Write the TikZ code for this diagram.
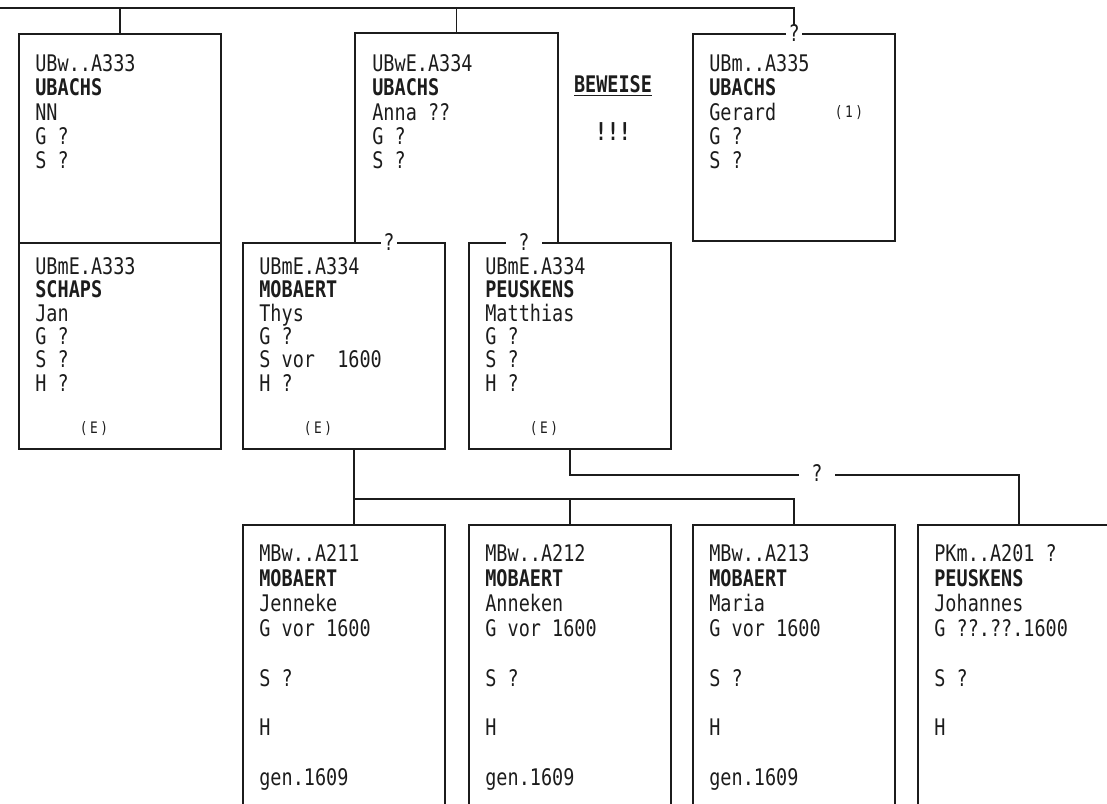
\documentclass[tikz,border=0pt]{standalone}
\usepackage{fontspec}
\usepackage{tikz}
\usetikzlibrary{calc}
\newfontfamily\dotfont[FakeStretch=0.81,WordSpace={1,0,0}]{DejaVu Sans Mono}
\definecolor{inkc}{HTML}{1C1C1C}

\tikzset{
  card/.style={minimum width=4.05cm, minimum height=#1, inner sep=0pt, anchor=north west},
  framed/.style={draw=inkc, line width=1pt},
  cardtext/.style={anchor=north west, align=left, inner sep=0pt, text=inkc,
    font=\dotfont\fontsize{13pt}{#1}\selectfont},
  cardtext/.default=13.9pt,
  qmark/.style={fill=white, inner xsep=1.5pt, inner ysep=0pt, text=inkc,
    font=\dotfont\fontsize{13pt}{14pt}\selectfont},
  qwide/.style={qmark, inner xsep=7pt},
  tag/.style={text=inkc, inner sep=0pt, font=\dotfont\fontsize{9pt}{10pt}\selectfont},
  link/.style={draw=inkc, line width=1pt}
}

\begin{document}
\begin{tikzpicture}[x=0.02cm, y=-0.02cm]
  \useasboundingbox (0,0) rectangle (1107,804);
  \clip (0,0) rectangle (1107,804);
  % first generation
  \node[card=4.18cm, framed] (ubw) at (18,33) {};
  \node[card=4.18cm] (ubwe) at (355,33) {};
  \node[card=4.14cm, framed] (ubm) at (692,33) {};
  % partners
  \node[card=4.12cm, framed] (schaps) at (18,242) {};
  \node[card=4.12cm, framed] (mobaert) at (242,242) {};
  \node[card=4.12cm, framed] (peuskens) at (468,242) {};
  % children
  \node[card=6cm, framed] (jenneke) at (242,524) {};
  \node[card=6cm, framed] (anneken) at (468,524) {};
  \node[card=6cm, framed] (maria) at (692,524) {};
  \node[card=6cm, framed] (johannes) at (917,524) {};

  % lines
  \coordinate (rail) at (0,8);
  \draw[link] (rail) -- (ubm.north |- rail) -- (ubm.north);
  \draw[link] (ubw.north |- rail) -- (ubw.north);
  \draw[link] (ubwe.north |- rail) -- (ubwe.north);
  \draw[link] (ubwe.south west) -- (ubwe.north west) -- (ubwe.north east) -- (ubwe.south east);
  \coordinate (kids) at (354,499);
  \draw[link] (mobaert.south -| kids) -- (jenneke.north -| kids);
  \draw[link] (kids) -- (maria.north |- kids) -- (maria.north);
  \draw[link] (anneken.north |- kids) -- (anneken.north);
  \draw[link] (peuskens.south) -- ++(0,25) -| (johannes.north);

  \node[qmark] (q_ubm) at (ubm.north) {?};
  \node[qmark] (q_mob) at (389,242) {?};
  \node[qwide] (q_peu) at (524,242) {?};
  \node[qwide] (q_pk) at (817,473) {?};

  % texts
  \node[cardtext] (t_ubw) at ($(ubw.north west)+(17,21)$)
    {UBw..A333\\\textbf{UBACHS}\\NN\\G ?\\S ?};
  \node[cardtext] (t_ubwe) at ($(ubwe.north west)+(17,21)$)
    {UBwE.A334\\\textbf{UBACHS}\\Anna ??\\G ?\\S ?};
  \node[cardtext] (t_ubm) at ($(ubm.north west)+(17,21)$)
    {UBm..A335\\\textbf{UBACHS}\\Gerard\\G ?\\S ?};
  \node[tag] (one) at ($(ubm.north west)+(157,80)$) {(\,1\,)};
  \node[text=inkc, font=\dotfont\bfseries\fontsize{13pt}{14pt}\selectfont] (beweise) at (613,86) {\underline{BEWEISE}};
  \node[text=inkc, font=\dotfont\bfseries\fontsize{14pt}{14pt}\selectfont] (bang) at (613,132) {!!!};

  \node[cardtext=13.3pt] (t_schaps) at ($(schaps.north west)+(17,15)$)
    {UBmE.A333\\\textbf{SCHAPS}\\Jan\\G ?\\S ?\\H ?};
  \node[cardtext=13.3pt] (t_mob) at ($(mobaert.north west)+(17,15)$)
    {UBmE.A334\\\textbf{MOBAERT}\\Thys\\G ?\\S vor\ \ 1600\\H ?};
  \node[cardtext=13.3pt] (t_peu) at ($(peuskens.north west)+(17,15)$)
    {UBmE.A334\\\textbf{PEUSKENS}\\Matthias\\G ?\\S ?\\H ?};
  \node[tag] (e_schaps) at ($(schaps.south west)+(76,-21)$) {(\,E\,)};
  \node[tag] (e_mob) at ($(mobaert.south west)+(76,-21)$) {(\,E\,)};
  \node[tag] (e_peu) at ($(peuskens.south west)+(76,-21)$) {(\,E\,)};

  \node[cardtext=14.2pt] (t_jen) at ($(jenneke.north west)+(17,20)$)
    {MBw..A211\\\textbf{MOBAERT}\\Jenneke\\G vor 1600\\[14.2pt]S ?\\[14.2pt]H\\[14.2pt]gen.1609};
  \node[cardtext=14.2pt] (t_ann) at ($(anneken.north west)+(17,20)$)
    {MBw..A212\\\textbf{MOBAERT}\\Anneken\\G vor 1600\\[14.2pt]S ?\\[14.2pt]H\\[14.2pt]gen.1609};
  \node[cardtext=14.2pt] (t_mar) at ($(maria.north west)+(17,20)$)
    {MBw..A213\\\textbf{MOBAERT}\\Maria\\G vor 1600\\[14.2pt]S ?\\[14.2pt]H\\[14.2pt]gen.1609};
  \node[cardtext=14.2pt] (t_joh) at ($(johannes.north west)+(17,20)$)
    {PKm..A201 ?\\\textbf{PEUSKENS}\\Johannes\\G ??.??.1600\\[14.2pt]S ?\\[14.2pt]H};
\end{tikzpicture}
\end{document}
